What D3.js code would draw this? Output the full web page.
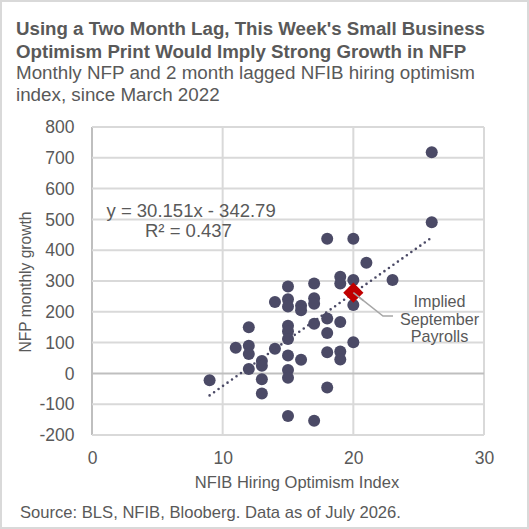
<!DOCTYPE html>
<html>
  <head>
    <meta charset="utf-8">
    <title>NFIB hiring vs NFP</title>
    <script src="https://d3js.org/d3.v7.min.js"></script>
    <style>
      body { margin: 0; background: #fff; }
      text { font-family: "Liberation Sans", Arial, sans-serif; fill: #595959; }
    </style>
  </head>
  <body>
    <div id="chart"></div>
    <script>

      // NFIB hiring optimism (lagged 2 months) and NFP monthly growth
      var hiring = [9, 11, 12, 12, 12, 12, 13, 13, 13, 13, 14, 14,
                    15, 15, 15, 15, 15, 15, 15, 15, 15, 15,
                    16, 16, 16, 17, 17, 17, 17, 17,
                    18, 18, 18, 18, 18, 19, 19, 19, 19, 19,
                    20, 20, 20, 20, 21, 23, 26, 26];
      var nfp = [-22, 83, 150, 90, 63, 14, 40, 25, -19, -65, 80, 232,
                 282, 241, 217, 155, 137, 112, 58, 11, -14, -138,
                 220, 205, 44, 292, 244, 226, 161, -154,
                 437, 178, 131, 69, -46, 314, 292, 167, 71, 45,
                 437, 303, 222, 101, 359, 303, 718, 491];

      // implied point for this week's print
      var implied = {x: 20, y: 262};

      // trend line as reported on the chart
      var slope = 30.151, intercept = -342.79;
      var trendRange = [9, 26];

      var xTicks = [0, 10, 20, 30];
      var yTicks = [-200, -100, 0, 100, 200, 300, 400, 500, 600, 700, 800];

      var titleLines = ["Using a Two Month Lag, This Week's Small Business",
                        "Optimism Print Would Imply Strong Growth in NFP"];
      var subtitleLines = ["Monthly NFP and 2 month lagged NFIB hiring optimism",
                           "index, since March 2022"];
      var noteLines = ["Implied", "September", "Payrolls"];

      var W = 529, H = 529;
      var plot = {left: 92, right: 484, top: 127, bottom: 435};
      var dotColor = "#4b4a66";

      var svg = d3.select("#chart").append("svg")
        .attr("width", W).attr("height", H);

      svg.append("rect")
        .attr("x", 1).attr("y", 1).attr("width", W - 2).attr("height", H - 2)
        .attr("fill", "#fff").attr("stroke", "#d9d9d9").attr("stroke-width", 2);

      var x = d3.scaleLinear().domain([0, 30]).range([plot.left, plot.right]);
      var y = d3.scaleLinear().domain([-200, 800]).range([plot.bottom, plot.top]);

      // Titles
      svg.selectAll(".title").data(titleLines).enter().append("text")
        .attr("class", "title")
        .attr("x", 16).attr("y", function (d, i) { return 35 + i * 22.5; })
        .style("font-size", "18.7px").style("font-weight", "bold")
        .text(function (d) { return d; });

      svg.selectAll(".subtitle").data(subtitleLines).enter().append("text")
        .attr("class", "subtitle")
        .attr("x", 16).attr("y", function (d, i) { return 79 + i * 22; })
        .style("font-size", "18.8px")
        .text(function (d) { return d; });

      // Gridlines
      var g = svg.append("g");
      g.selectAll(".vgrid").data(xTicks).enter().append("line")
        .attr("x1", function (d) { return x(d); }).attr("x2", function (d) { return x(d); })
        .attr("y1", plot.top).attr("y2", plot.bottom)
        .attr("stroke", function (d) { return d === 0 ? "#bfbfbf" : "#d9d9d9"; })
        .attr("stroke-width", 2);
      g.selectAll(".hgrid").data(yTicks).enter().append("line")
        .attr("y1", function (d) { return y(d); }).attr("y2", function (d) { return y(d); })
        .attr("x1", plot.left).attr("x2", plot.right)
        .attr("stroke", function (d) { return d === 0 ? "#bfbfbf" : "#d9d9d9"; })
        .attr("stroke-width", 2);

      // Axes (labels only, lines come from the grid); plain hyphen for negatives
      var plain = function (d) { return String(d); };
      var xAxis = svg.append("g")
        .attr("transform", "translate(0," + (plot.bottom + 17) + ")")
        .call(d3.axisBottom(x).tickValues(xTicks).tickFormat(plain).tickSize(0).tickPadding(0));
      var yAxis = svg.append("g")
        .attr("transform", "translate(" + (plot.left - 17.5) + ",0)")
        .call(d3.axisLeft(y).tickValues(yTicks).tickFormat(plain).tickSize(0).tickPadding(0));
      [xAxis, yAxis].forEach(function (a) {
        a.select(".domain").remove();
        a.selectAll("text").style("font-size", "17.5px").attr("fill", "#595959");
        a.attr("font-family", null);
      });

      svg.append("text")
        .attr("x", 297).attr("y", 488)
        .attr("text-anchor", "middle").style("font-size", "16.5px")
        .text("NFIB Hiring Optimism Index");

      svg.append("text")
        .attr("transform", "translate(31,282) rotate(-90)")
        .attr("text-anchor", "middle").style("font-size", "15.6px")
        .text("NFP monthly growth");

      svg.append("text")
        .attr("x", 20).attr("y", 518).style("font-size", "16.6px")
        .text("Source: BLS, NFIB, Blooberg. Data as of July 2026.");

      // Points
      var pts = hiring.map(function (h, i) { return {x: h, y: nfp[i]}; });
      svg.append("g").selectAll("circle").data(pts).enter().append("circle")
        .attr("cx", function (d) { return x(d.x); })
        .attr("cy", function (d) { return y(d.y); })
        .attr("r", 6)
        .attr("fill", dotColor);

      // Trend line (dotted)
      svg.append("line")
        .attr("x1", x(trendRange[0])).attr("y1", y(slope * trendRange[0] + intercept))
        .attr("x2", x(trendRange[1])).attr("y2", y(slope * trendRange[1] + intercept))
        .attr("stroke", dotColor).attr("stroke-width", 2.6)
        .attr("stroke-linecap", "round").attr("stroke-dasharray", "0 5.5");

      svg.append("text")
        .attr("x", 106.5).attr("y", 217).style("font-size", "18.5px")
        .text("y = 30.151x - 342.79");
      svg.append("text")
        .attr("x", 145).attr("y", 237).style("font-size", "18.5px")
        .text("R² = 0.437");

      // Leader line + implied diamond
      var ix = x(implied.x), iy = y(implied.y);
      svg.append("polyline")
        .attr("points", [[ix, iy], [383, 316], [393, 316]].map(function (p) { return p.join(","); }).join(" "))
        .attr("fill", "none").attr("stroke", "#a6a6a6").attr("stroke-width", 1.5);
      svg.append("path")
        .attr("d", d3.symbol().type(d3.symbolDiamond2).size(260)())
        .attr("transform", "translate(" + ix + "," + iy + ")")
        .attr("fill", "#c00000");
      svg.append("line")
        .attr("x1", ix).attr("y1", iy).attr("x2", ix + 10).attr("y2", iy + 8)
        .attr("stroke", "#a6a6a6").attr("stroke-width", 1.5);

      svg.selectAll(".note").data(noteLines).enter().append("text")
        .attr("class", "note")
        .attr("x", 439.5).attr("y", function (d, i) { return 307 + i * 17.5; })
        .attr("text-anchor", "middle").style("font-size", "16.2px")
        .text(function (d) { return d; });

    </script>
  </body>
</html>
